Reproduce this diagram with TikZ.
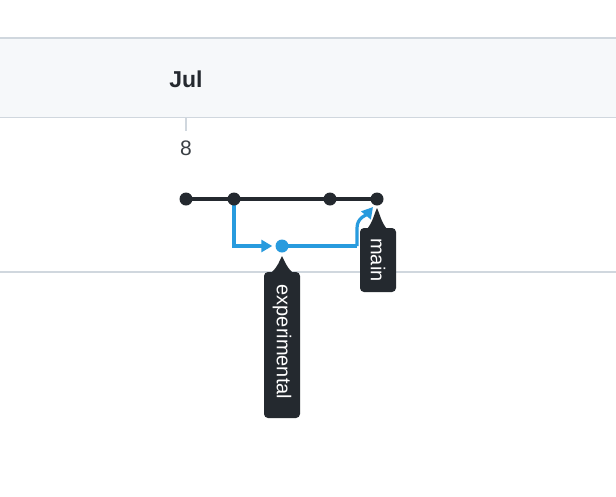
\documentclass[tikz,border=0pt]{standalone}
\usepackage{fontspec}
\setmainfont{Liberation Sans}
\usetikzlibrary{arrows.meta,backgrounds}
\definecolor{ink}{HTML}{24292F}
\definecolor{rule}{HTML}{D0D7DE}
\definecolor{band}{HTML}{F6F8FA}
\definecolor{branch}{RGB}{40,155,222}
\definecolor{graytext}{HTML}{3A3F45}
\tikzset{
  x=1pt, y=-1pt,
  commit/.style={circle, fill=ink, inner sep=0pt, minimum size=13pt},
  bcommit/.style={circle, fill=branch, inner sep=0pt, minimum size=13pt},
  mainline/.style={ink, line width=3.6pt},
  branchline/.style={branch, line width=3.2pt, line join=miter},
  tag/.style={fill=ink, rounded corners=4pt},
  tagtext/.style={text=white, font=\fontsize{20}{22}\selectfont, rotate=-90, inner sep=0pt},
  brtip/.style={-{Triangle[length=11pt,width=12pt]}}
}
\begin{document}
\begin{tikzpicture}
\useasboundingbox (0,0) rectangle (616,496);
% commits
\node[commit] (c1) at (186,199) {};
\node[commit] (c2) at (234,199) {};
\node[commit] (c3) at (330,199) {};
\node[commit] (c4) at (377,199) {};
\node[bcommit] (e1) at (282,246) {};
\coordinate (k) at (357,246);
\coordinate (mt) at (373,207);
\begin{pgfonlayer}{background}
\fill[white] (0,0) rectangle (616,496);
% header band
\fill[band] (0,38) rectangle (616,117);
\draw[rule, line width=1.8pt] (0,38) -- (616,38);
\draw[rule, line width=1.8pt] (0,117.5) -- (616,117.5);
\draw[rule, line width=1.8pt] (0,272) -- (616,272);
\draw[rule, line width=1.8pt] (186,118) -- (186,131);
\draw[mainline] (c1.center) -- (c2.center) -- (c3.center) -- (c4.center);
\draw[branchline, brtip] (c2.center) |- ([xshift=-3pt]e1.west);
\draw[branchline] (e1.center) -- (k);
\end{pgfonlayer}
\node[text=ink, font=\fontsize{23}{25}\selectfont\bfseries] (jul) at (186,79) {Jul};
\node[text=graytext, font=\fontsize{21}{23}\selectfont] (d8) at (186,148) {8};
\draw[branchline, brtip] (k) -- (357,228) to[out=90,in=-130] (mt);
% tags
\fill[tag] (264,272) rectangle (300,418);
\fill[ink] (282,256) .. controls (279,262) and (278,266) .. (272,272) -- (292,272) .. controls (286,266) and (285,262) .. (282,256) -- cycle;
\node[tagtext] (exp) at (282,342) {experimental};
\fill[tag] (360,228) rectangle (396,292);
\fill[ink] (377,208) .. controls (374,214) and (373,222) .. (367,229) -- (387,229) .. controls (381,222) and (380,214) .. (377,208) -- cycle;
\node[tagtext] (mainlbl) at (378,260) {main};
\end{tikzpicture}
\end{document}
